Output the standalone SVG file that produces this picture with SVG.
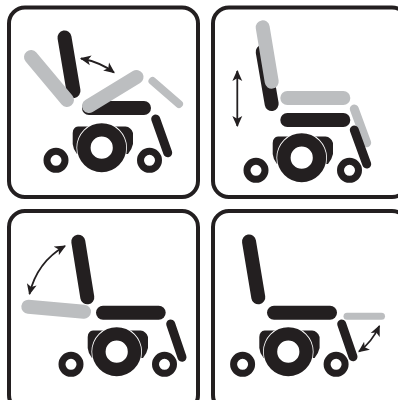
<svg xmlns="http://www.w3.org/2000/svg" width="398" height="400" viewBox="0 0 398 400">
<style>
.panel{fill:#fff;stroke:#231f20;stroke-width:4}
.k{stroke:#231f20;fill:none;stroke-linecap:round}
.g{stroke:#bcbec0;fill:none;stroke-linecap:round}
.w14{stroke-width:14}
.w9{stroke-width:9}
.w8{stroke-width:8}
.w7{stroke-width:7}
.arrow{stroke:#231f20;stroke-width:1.8;fill:none;marker-start:url(#h);marker-end:url(#h)}
</style>
<defs>
<marker id="h" viewBox="0 0 10 10" refX="9" refY="5" markerWidth="11" markerHeight="11" markerUnits="userSpaceOnUse" orient="auto-start-reverse">
<path d="M0,0.500 L10,5 L0,9.500 L2.500,5 Z" fill="#231f20"/>
</marker>
<g id="base">
<path d="M78,126.500 H125.500 Q131,127 133,133 V144 Q132,149 128,154 L77,154 Q73,149 72.700,144 V133 Q73,127 78,126.500 Z" fill="#231f20"/>
<circle cx="101.700" cy="147.700" r="25.300" fill="#fff"/>
<circle cx="101.700" cy="147.700" r="17.800" fill="none" stroke="#231f20" stroke-width="13.400"/>
<circle cx="56" cy="160.300" r="9" fill="none" stroke="#231f20" stroke-width="7"/>
<circle cx="149.500" cy="160.300" r="9" fill="none" stroke="#231f20" stroke-width="7"/>
</g>
</defs>
<g id="panel-1">
<rect class="panel" x="9" y="7.500" width="189" height="189.500" rx="16"/>
<use href="#base"/>
<line class="k w14" x1="64.500" y1="37.500" x2="73.500" y2="91"/>
<line class="g w14" x1="31" y1="57" x2="67" y2="100"/>
<line class="k w14" x1="89" y1="108" x2="144" y2="108"/>
<line class="g w14" x1="136.500" y1="77" x2="89" y2="106"/>
<line class="g w8" x1="152.500" y1="81" x2="179" y2="104"/>
<line class="k w9" x1="155.700" y1="119" x2="167.700" y2="152.700"/>
</g>
<g id="panel-2">
<rect class="panel" x="213" y="7.500" width="195" height="189.500" rx="16"/>
<use href="#base" x="200" y="10"/>
<line class="k w14" x1="262.700" y1="51.700" x2="271.700" y2="104"/>
<line class="g w14" x1="262.700" y1="27.300" x2="271.700" y2="81.700"/>
<line class="g w14" x1="287.300" y1="98" x2="343.300" y2="98"/>
<line class="k w14" x1="287.300" y1="120" x2="343.300" y2="120"/>
<line class="g w9" x1="354.300" y1="109" x2="366.700" y2="142.700"/>
<line class="k w9" x1="354.300" y1="130" x2="366.700" y2="164"/>
</g>
<g id="panel-3">
<rect class="panel" x="9" y="211" width="189" height="200" rx="16"/>
<use href="#base" x="15" y="204"/>
<line class="k w14" x1="78.300" y1="241.700" x2="87.300" y2="297.300"/>
<line class="g w14" x1="28.300" y1="306.700" x2="84" y2="311.700"/>
<line class="k w14" x1="103" y1="312.700" x2="158.700" y2="312.700"/>
<line class="k w9" x1="170.700" y1="324" x2="182" y2="357.300"/>
</g>
<g id="panel-4">
<rect class="panel" x="213" y="211" width="195" height="200" rx="16"/>
<use href="#base" x="186.600" y="204"/>
<line class="k w14" x1="249" y1="241.500" x2="258.300" y2="297.300"/>
<line class="k w14" x1="274" y1="312.700" x2="330" y2="312.700"/>
<line class="g w7" x1="347" y1="316.300" x2="381.500" y2="316.300"/>
<line class="k w9" x1="341.700" y1="324" x2="353" y2="356.700"/>
</g>
<g id="connectors">
<path class="arrow" d="M81,58.500 Q100,62 114,72.500"/>
<path class="arrow" d="M237.300,71 V126"/>
<path class="arrow" d="M65,246 Q37,262 29.500,294"/>
<path class="arrow" d="M359,351.500 Q372,342 379.300,326"/>
</g>
</svg>
